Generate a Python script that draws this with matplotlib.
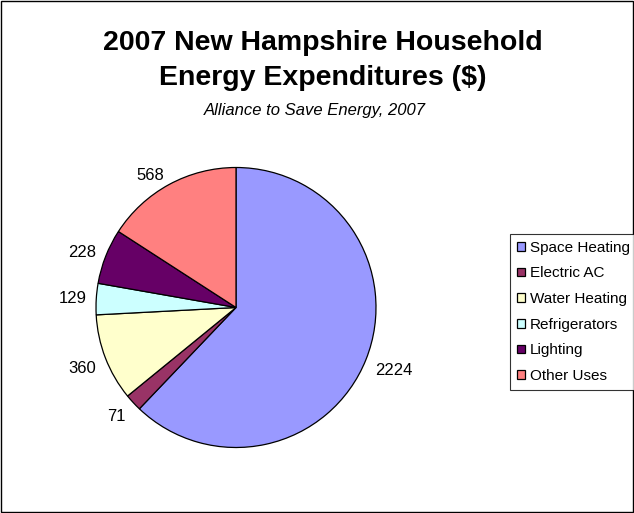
import matplotlib
matplotlib.use("Agg")
import numpy as np
import matplotlib.pyplot as plt
from matplotlib.patches import Rectangle

categories = ["Space Heating", "Electric AC", "Water Heating", "Refrigerators", "Lighting", "Other Uses"]
values = [2224, 71, 360, 129, 228, 568]
colors = ["#9999FF", "#993366", "#FFFFCC", "#CCFFFF", "#660066", "#FF8080"]

plt.rcParams['font.family'] = ['Liberation Sans', 'DejaVu Sans']

fig = plt.figure(figsize=(6.34, 5.13), dpi=100)
fig.patches.append(Rectangle((0.0008, 0.001), 0.9976, 0.997, transform=fig.transFigure,
                             fill=False, edgecolor='black', linewidth=1.0))

R = 140
cx, cy = 236, 307.5
ax = fig.add_axes([(cx - R)/634, (513 - cy - R)/513, 2*R/634, 2*R/513])
wedges, texts = ax.pie(values, colors=colors, startangle=90, counterclock=False,
                       labels=[str(v) for v in values], labeldistance=1.07,
                       wedgeprops=dict(edgecolor='black', linewidth=0.9),
                       textprops=dict(fontsize=12))
ax.set_xlim(-1, 1)
ax.set_ylim(-1, 1)
ax.set_aspect('equal')

for w, t in zip(wedges, texts):
    ang = np.deg2rad((w.theta1 + w.theta2) / 2)
    s = np.sin(ang)
    t.set_va('top' if s < -0.3 else 'center')

fig.text(0.509, 1-43.5/513, "2007 New Hampshire Household", ha='center', va='center',
         fontsize=20.5, fontweight='bold')
fig.text(0.509, 1-78/513, "Energy Expenditures ($)", ha='center', va='center',
         fontsize=20.5, fontweight='bold')
fig.text(0.497, 1-111/513, "Alliance to Save Energy, 2007", ha='center', va='center',
         fontsize=12, style='italic')

leg = fig.legend(wedges, categories, loc='upper left', bbox_to_anchor=(510/634, 1-234/513),
                 fontsize=11, frameon=True, fancybox=False, handlelength=0.5, handleheight=0.5,
                 handletextpad=0.35, labelspacing=0.76, borderpad=0.45, borderaxespad=0)
leg.get_frame().set_edgecolor('black')
leg.get_frame().set_linewidth(0.8)

fig.savefig("out.png", dpi=100)
